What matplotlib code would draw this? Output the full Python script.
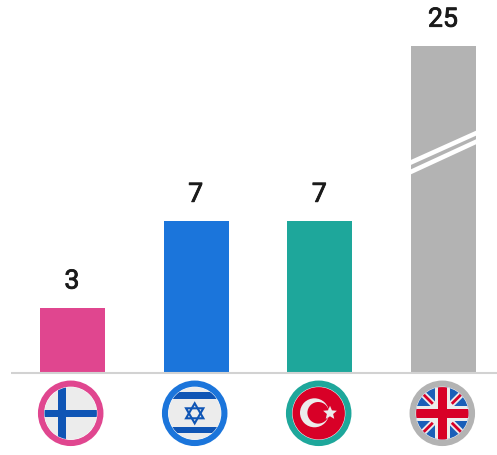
import numpy as np
import matplotlib
matplotlib.use('Agg')
import matplotlib.pyplot as plt
import matplotlib.patheffects as pe
from matplotlib.patches import Circle, Polygon, Rectangle

countries = ['Finland', 'Israel', 'Turkey', 'UK']
values = [3, 7, 7, 25]
colors = ['#E0468F', '#1B75DB', '#1EA79B', '#B3B3B3']

W, H = 497, 456
BASE_Y = 374
UNIT = 21.7       # pixels per value below the break
BREAK = 10        # the axis is squeezed above this value
SQUEEZE = 0.338


def squeeze(y):
    y = np.asarray(y, dtype=float)
    return np.where(y <= BREAK, y, BREAK + (y - BREAK) * SQUEEZE)


def unsqueeze(y):
    y = np.asarray(y, dtype=float)
    return np.where(y <= BREAK, y, BREAK + (y - BREAK) / SQUEEZE)


plt.rcParams['font.family'] = ['Roboto', 'DejaVu Sans']
fig = plt.figure(figsize=(W / 100, H / 100), dpi=100, facecolor='white')

# bars
ax = fig.add_axes([0, (H - BASE_Y) / H, 1, BASE_Y / H])
ax.set_yscale('function', functions=(squeeze, unsqueeze))
step = 123.67
ax.set_xlim(-72.5 / step, (W - 72.5) / step)
ax.set_ylim(0, float(unsqueeze(BASE_Y / UNIT)))
x = np.arange(len(values))
ax.bar(x, values, width=65 / step, color=colors, linewidth=0)
for xi, v in zip(x, values):
    t = ax.annotate(str(v), xy=(xi, v), xytext=(-0.4, 13.9), textcoords='offset points',
                    ha='center', va='baseline', fontsize=19.2,
                    color='#1A1A1A')
    # the installed Roboto has no medium cut here, thicken it a little
    t.set_path_effects([pe.withStroke(linewidth=0.6, foreground='#1A1A1A')])
ax.axis('off')

# overlay in pixel coordinates for the break, baseline and flags
ov = fig.add_axes([0, 0, 1, 1], zorder=3)
ov.set_xlim(0, W)
ov.set_ylim(H, 0)
ov.axis('off')
ov.patch.set_alpha(0)

# break marks on the last bar
for left_y, right_y in ((163.4, 134.2), (172.8, 142.8)):
    ov.add_patch(Polygon([(411, left_y - 2.5), (476, right_y - 2.5),
                          (476, right_y + 2.5), (411, left_y + 2.5)],
                         fc='white', ec='none'))

# baseline
ov.plot([11, W], [374.3, 374.3], color='#D2D2D2', lw=1.5, solid_capstyle='butt')


def badge(cx, ring):
    cy = 414.3
    ov.add_patch(Circle((cx, cy), 29.7, fc='white', ec=ring, lw=4.4, zorder=0.1))
    bg = Circle((cx, cy), 26.2, fc='none', ec='none')
    ov.add_patch(bg)
    return cy, bg


def add_clipped(patch, clip):
    ov.add_patch(patch)
    patch.set_clip_path(clip)


def rect(x0, y0, w, h, color, clip, z=1):
    add_clipped(Rectangle((x0, y0), w, h, fc=color, ec='none', zorder=z), clip)


def star_points(cx, cy, r_out, r_in, rot=-90):
    a = np.radians(rot + np.arange(10) * 36)
    r = np.where(np.arange(10) % 2 == 0, r_out, r_in)
    return np.c_[cx + r * np.cos(a), cy + r * np.sin(a)]


# Finland
cx = 70.7
cy, clip = badge(cx, colors[0])
rect(cx - 27, cy - 27, 54, 54, '#ECECEC', clip)
rect(cx - 27, cy - 3.3, 54, 6.6, '#0F55B5', clip)
rect(cx - 12.5, cy - 27, 7.4, 54, '#0F55B5', clip)

# Israel
cx = 194.7
cy, clip = badge(cx, colors[1])
rect(cx - 27, cy - 27, 54, 54, '#ECECEC', clip)
rect(cx - 27, cy - 21, 54, 6.7, '#0F55B5', clip)
rect(cx - 27, cy + 13.5, 54, 6.7, '#0F55B5', clip)
for rot in (-90, 90):
    a = np.radians(rot + np.arange(3) * 120)
    ov.add_patch(Polygon(np.c_[cx + 10 * np.cos(a), cy + 10 * np.sin(a)],
                         fc='none', ec='#0F55B5', lw=1.5))

# Turkey
cx = 318.7
cy, clip = badge(cx, colors[2])
rect(cx - 27, cy - 27, 54, 54, '#D80027', clip)
add_clipped(Circle((cx - 4.2, cy - 0.5), 14.5, fc='#ECECEC', ec='none'), clip)
add_clipped(Circle((cx - 0.5, cy - 0.5), 10.8, fc='#D80027', ec='none'), clip)
add_clipped(Polygon(star_points(cx + 11.3, cy - 0.3, 7.2, 3.3, rot=-162),
                    fc='#ECECEC', ec='none'), clip)

# UK, layered with zorder since lines sit above patches by default
cx = 442.3
cy, clip = badge(cx, colors[3])
rect(cx - 27, cy - 27, 54, 54, '#1A5FB8', clip, z=0.5)
for sign in (1, -1):
    line, = ov.plot([cx - 27, cx + 27], [cy - 27 * sign, cy + 27 * sign],
                    color='#ECECEC', lw=4.6, solid_capstyle='butt', zorder=0.6)
    line.set_clip_path(clip)
rect(cx - 27, cy - 7.6, 54, 15.2, '#ECECEC', clip, z=0.7)
rect(cx - 7.6, cy - 27, 15.2, 54, '#ECECEC', clip, z=0.7)
for sx in (1, -1):
    for sy in (1, -1):
        line, = ov.plot([cx + 9.5 * sx, cx + 27 * sx], [cy + 9.5 * sy, cy + 27 * sy],
                        color='#D80027', lw=2, solid_capstyle='butt', zorder=0.8)
        line.set_clip_path(clip)
rect(cx - 27, cy - 4.6, 54, 9.2, '#D80027', clip, z=0.9)
rect(cx - 4.7, cy - 27, 9.4, 54, '#D80027', clip, z=0.9)

fig.savefig('out.png', dpi=100)
